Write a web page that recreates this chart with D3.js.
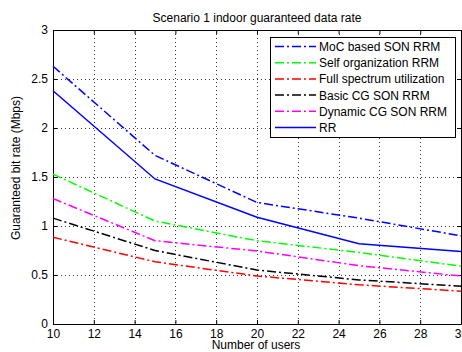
<!DOCTYPE html>
<html>
<head>
<meta charset="utf-8">
<script src="https://d3js.org/d3.v7.min.js"></script>
<style>
  body { margin: 0; background: #fff; }
  text { font-family: "Liberation Sans", Arial, sans-serif; }
</style>
</head>
<body>
<script>
// data
var users = [10, 15, 20, 25, 30];
var mocSon = [2.63, 1.72, 1.24, 1.08, 0.90];
var selfOrg = [1.53, 1.05, 0.85, 0.73, 0.59];
var fullSpec = [0.885, 0.635, 0.49, 0.40, 0.335];
var basicCg = [1.08, 0.75, 0.55, 0.45, 0.385];
var dynCg = [1.28, 0.85, 0.745, 0.595, 0.49];
var rr = [2.38, 1.48, 1.09, 0.82, 0.74];

var seriesNames = ["MoC based SON RRM", "Self organization RRM", "Full spectrum utilization",
                   "Basic CG SON RRM", "Dynamic CG SON RRM", "RR"];
var seriesValues = [mocSon, selfOrg, fullSpec, basicCg, dynCg, rr];
var seriesColors = ["#0000ff", "#00ff00", "#ff0000", "#000000", "#ff00ff", "#0000ff"];
var seriesDash = ["9,3,2,3", "9,3,2,3", "9,3,2,3", "9,3,2,3", "9,3,2,3", null];

var xTicks = [10, 12, 14, 16, 18, 20, 22, 24, 26, 28, 30];
var yTicks = [0, 0.5, 1, 1.5, 2, 2.5, 3];

var w = 462, h = 352;
var pad = { top: 30, bottom: 28, left: 53, right: 1 };

var svg = d3.select("body").append("svg")
            .attr("width", w)
            .attr("height", h);

var xScale = d3.scaleLinear().domain([10, 30]).range([pad.left, w - pad.right]);
var yScale = d3.scaleLinear().domain([0, 3]).range([h - pad.bottom, pad.top]);

// grid lines
svg.append("g").selectAll("line").data(xTicks.slice(1, -1)).enter().append("line")
   .attr("x1", function(d) { return Math.round(xScale(d)) + 0.5; })
   .attr("x2", function(d) { return Math.round(xScale(d)) + 0.5; })
   .attr("y1", yScale(3)).attr("y2", yScale(0))
   .attr("stroke", "#333").attr("stroke-dasharray", "1,3");

svg.append("g").selectAll("line").data(yTicks.slice(1, -1)).enter().append("line")
   .attr("y1", function(d) { return Math.round(yScale(d)) + 0.5; })
   .attr("y2", function(d) { return Math.round(yScale(d)) + 0.5; })
   .attr("x1", xScale(10)).attr("x2", xScale(30))
   .attr("stroke", "#333").attr("stroke-dasharray", "1,3");

// axes, ticks inward on all sides
svg.append("g")
   .attr("transform", "translate(0," + (h - pad.bottom) + ")")
   .call(d3.axisBottom(xScale).tickValues(xTicks).tickSizeInner(-4).tickSizeOuter(0).tickPadding(5));
svg.append("g")
   .attr("transform", "translate(" + pad.left + ",0)")
   .call(d3.axisLeft(yScale).tickValues(yTicks).tickSizeInner(-4).tickSizeOuter(0).tickPadding(5)
         .tickFormat(function(d) { return d; }));
svg.append("g")
   .attr("transform", "translate(0," + pad.top + ")")
   .call(d3.axisTop(xScale).tickValues(xTicks).tickSizeInner(-4).tickSizeOuter(0).tickFormat(""));
svg.append("g")
   .attr("transform", "translate(" + (w - pad.right) + ",0)")
   .call(d3.axisRight(yScale).tickValues(yTicks).tickSizeInner(-4).tickSizeOuter(0).tickFormat(""));

svg.selectAll(".domain").attr("stroke", "#000");
svg.selectAll(".tick line").attr("stroke", "#000");
svg.selectAll(".tick text").attr("font-size", "12px").attr("fill", "#000")
   .style("font-family", "'Liberation Sans', Arial, sans-serif");

// series lines
var line = d3.line()
             .x(function(d, i) { return xScale(users[i]); })
             .y(function(d) { return yScale(d); });

seriesValues.forEach(function(vals, i) {
  svg.append("path")
     .datum(vals)
     .attr("d", line)
     .attr("fill", "none")
     .attr("stroke", seriesColors[i])
     .attr("stroke-width", 1.5)
     .attr("stroke-dasharray", seriesDash[i]);
});

// title and labels
svg.append("text")
   .attr("x", (pad.left + w - pad.right) / 2)
   .attr("y", 22)
   .attr("text-anchor", "middle")
   .attr("font-size", "12px")
   .text("Scenario 1 indoor guaranteed data rate");

svg.append("text")
   .attr("x", 256)
   .attr("y", 349)
   .attr("text-anchor", "middle")
   .attr("font-size", "12px")
   .text("Number of users");

svg.append("text")
   .attr("transform", "translate(20,168) rotate(-90)")
   .attr("text-anchor", "middle")
   .attr("font-size", "12px")
   .text("Guaranteed bit rate (Mbps)");

// legend
var legend = svg.append("g").attr("transform", "translate(270,37)");
legend.append("rect")
      .attr("x", 0.5).attr("y", 0.5)
      .attr("width", 185).attr("height", 100)
      .attr("fill", "#fff").attr("stroke", "#000");

var rows = legend.selectAll(".legend-row")
                 .data(seriesNames)
                 .enter()
                 .append("g")
                 .attr("class", "legend-row")
                 .attr("transform", function(d, i) { return "translate(0," + (9.5 + i * 16.2) + ")"; });

rows.append("line")
    .attr("x1", 5).attr("x2", 46)
    .attr("stroke", function(d, i) { return seriesColors[i]; })
    .attr("stroke-width", 1.5)
    .attr("stroke-dasharray", function(d, i) { return seriesDash[i]; });

rows.append("text")
    .attr("x", 49)
    .attr("y", 4.5)
    .attr("font-size", "12px")
    .text(function(d) { return d; });
</script>
</body>
</html>
